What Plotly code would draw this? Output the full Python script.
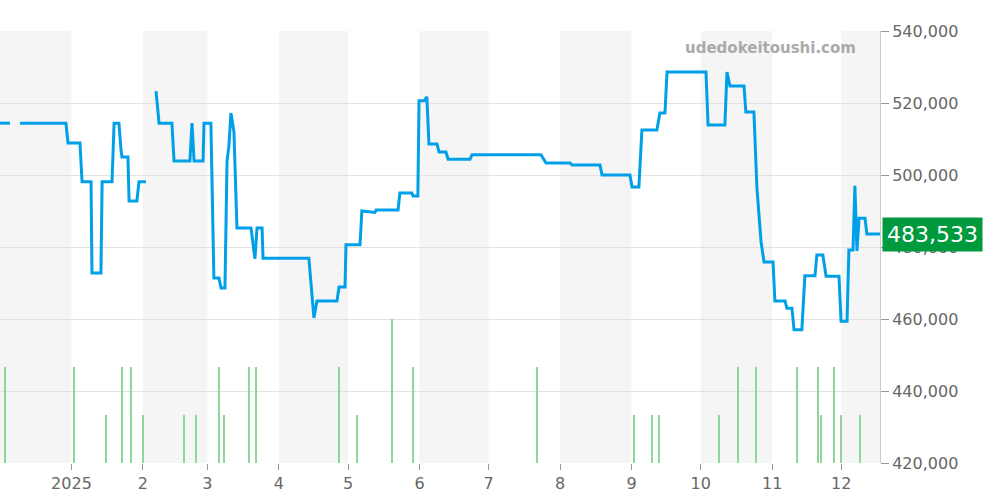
import pandas as pd
import plotly.graph_objects as go

start = pd.Timestamp("2024-12-01")

# price line: days since 2024-12-01, None = gap
price_days = [0, 4.3, None, 8.7, 28.6, 29.5, 34.7, 35.6, 39.5, 39.9, 43.8, 44.3, 48.6, 49.5, 51.6,
              52.5, 52.9, 55.5, 56, 59.4, 60.3, 63.3, None,
              67.7, 69, 74.6, 75.5, 82.4, 83.3, 84.2, 88.1, 88.5, 91.5, 92.8, 95, 95.9, 97.6, 98.5,
              99.3, 100.2, 101.5, 102.8, 108.9, 110.6, 111.5, 113.7, 114.1, 134, 136.2, 137.5, 146.2,
              147.1, 149.7, 150.1, 156.2, 157, 162.7, 163.2, 172.7, 173.5, 178.7, 179.2, 181.3, 181.8,
              183.9, 185.2, 186.1, 189.6, 190.5, 193.5, 194.4, 203.9, 204.8, 234.7, 236.9, 247.3,
              248.2, 260.3, 261.2, 273.3, 274.2, 277.2, 278.5, 285, 286.3, 288.5, 289.4, 306.3, 307.2,
              314.5, 315.4, 316.7, 322.8, 323.6, 327.1, 328.4, 330.2, 331.5, 335.4, 336.2, 340.6,
              341.4, 343.6, 344.5, 347.9, 349.2, 353.6, 354.4, 357, 358.4, 364, 364.9, 367.5, 368.3,
              370.1, 370.9, 371.8, 372.7, 375.3, 376.1, 381.8]
price_vals = [514400, 514400, None, 514400, 514400, 508900, 508900, 498100, 498100, 472800, 472800,
              498100, 498100, 514400, 514400, 507000, 505000, 505000, 492800, 492800, 498100, 498100, None,
              523300, 514400, 514400, 503900, 503900, 514400, 503900, 503900, 514400, 514400, 471400,
              471400, 468600, 468600, 503900, 508000, 517200, 512000, 485300, 485300, 476700, 485300,
              485300, 476900, 476900, 460300, 465000, 465000, 468900, 468900, 480600, 480600, 490000,
              489600, 490300, 490300, 495000, 495000, 494200, 494200, 520600, 520600, 521700, 508600,
              508600, 506400, 506400, 504400, 504400, 505600, 505600, 503300, 503300, 502800, 502800,
              500000, 500000, 496700, 496700, 512500, 512500, 517200, 517200, 528600, 528600, 513900,
              513900, 528600, 524700, 524700, 517500, 517500, 496400, 481400, 475800, 475800, 465000,
              465000, 463000, 463000, 457000, 457000, 472000, 472000, 477800, 477800, 471900, 471900,
              459400, 459400, 479200, 479200, 497000, 478900, 488000, 488000, 483600, 483600]

# transactions (volume)
vol_days = [2, 32, 46, 53, 57, 62, 80, 85, 95, 97, 108, 111, 147, 155, 170, 179, 233, 275, 283, 286,
            312, 320, 328, 346, 355, 356, 362, 365, 373]
vol_counts = [2, 2, 1, 2, 2, 1, 1, 1, 2, 1, 2, 2, 2, 1, 3, 2, 2, 1, 1, 1, 1, 2, 2, 2, 2, 1, 2, 1, 1]

last_price = 483533
month_ticks = pd.date_range("2025-01-01", "2025-12-01", freq="MS")
month_labels = ["2025", "2", "3", "4", "5", "6", "7", "8", "9", "10", "11", "12"]


def to_dates(days):
    return [None if d is None else start + pd.Timedelta(days=d) for d in days]


fig = go.Figure()
fig.add_trace(go.Bar(x=to_dates(vol_days), y=vol_counts, yaxis="y2", marker_color="#8ed69a",
                     marker_line_width=0, width=0.45 * 86400000, hoverinfo="skip"))
fig.add_trace(go.Scatter(x=to_dates(price_days), y=price_vals, mode="lines", connectgaps=False,
                         line=dict(color="#00a0e9", width=3)))

# alternating month shading
shade_starts = ["2024-12-01", "2025-02-01", "2025-04-01", "2025-06-01", "2025-08-01", "2025-10-01", "2025-12-01"]
for s in shade_starts:
    e = pd.Timestamp(s) + pd.offsets.MonthBegin(1)
    fig.add_shape(type="rect", xref="x", yref="paper", x0=s, x1=e, y0=0, y1=1,
                  fillcolor="#f5f5f5", line_width=0, layer="below")

x_end = start + pd.Timedelta(days=381.8)
fig.update_layout(
    width=1000, height=500, showlegend=False, bargap=0,
    margin=dict(l=0, r=120, t=31, b=37),
    plot_bgcolor="white", paper_bgcolor="white",
    font=dict(family="DejaVu Sans", color="#666666", size=16),
    xaxis=dict(range=[start, x_end], tickvals=month_ticks, ticktext=month_labels,
               showgrid=False, ticks="outside", ticklen=6, tickcolor="#999999",
               showline=False, zeroline=False),
    yaxis=dict(range=[420000, 540000], dtick=20000, side="right", tickformat=",",
               gridcolor="#e2e2e2", showline=True, linecolor="#cccccc", ticks="outside",
               ticklen=8, tickcolor="#999999", zeroline=False),
    yaxis2=dict(range=[0, 9], overlaying="y", visible=False),
)
fig.add_annotation(text="udedokeitoushi.com", xref="paper", yref="paper", x=0.975, y=0.985,
                   xanchor="right", yanchor="top", showarrow=False,
                   font=dict(size=15, color="#aaaaaa", family="DejaVu Sans", weight="bold"))
fig.add_annotation(text=f"{last_price:,}", xref="paper", yref="y", x=1.0, y=last_price,
                   xanchor="left", yanchor="middle", showarrow=False, xshift=2,
                   bgcolor="#009a3e", borderpad=4,
                   font=dict(size=22, color="white", family="DejaVu Sans"))

fig.write_html("out.html", config={"displayModeBar": False},
               post_script="document.body.style.margin='0';")
